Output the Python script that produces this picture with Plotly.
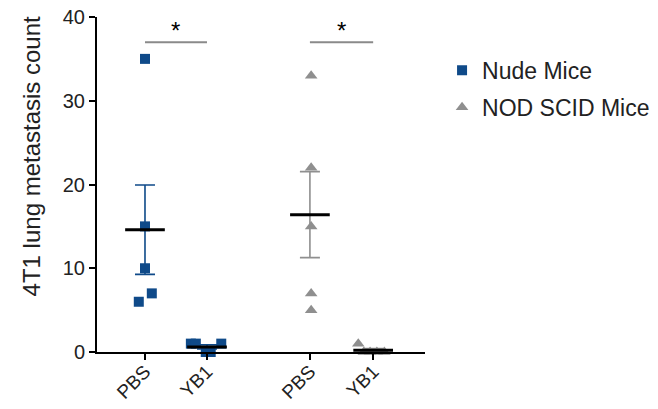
import numpy as np
import plotly.graph_objects as go

# ---- data ----
tick_labels = ["PBS", "YB1", "PBS", "YB1"]
group_pos = [0.0, 1.0, 2.66, 3.68]

nude_pbs = [35, 15, 10, 7, 6]
nude_yb1 = [1, 1, 1, 0, 0]
nod_pbs = [33, 22, 15, 7, 5]
nod_yb1 = [1, 0, 0, 0, 0]

# horizontal scatter offsets (jitter) for points within each group
nude_pbs_off = [0.0, 0.0, 0.0, 0.11, -0.1]
nude_yb1_off = [-0.26, -0.18, 0.23, -0.02, 0.06]
nod_pbs_off = [0.02, 0.02, 0.02, 0.02, 0.02]
nod_yb1_off = [-0.24, -0.15, -0.05, 0.06, 0.18]

sig_pairs = [(0, 1), (2, 3)]
sig_level = 37
sig_text = "*"
y_title = "4T1 lung metastasis count"

BLUE = "#0f4a89"
GREY = "#8f8f8f"
FONT = "Liberation Sans, Arial, sans-serif"

fig = go.Figure()

groups = [
    (nude_pbs, nude_pbs_off, group_pos[0], BLUE, "square", "Nude Mice", True, 10),
    (nude_yb1, nude_yb1_off, group_pos[1], BLUE, "square", "Nude Mice", False, 10),
    (nod_pbs, nod_pbs_off, group_pos[2], GREY, "triangle-up", "NOD SCID Mice", True, 11),
    (nod_yb1, nod_yb1_off, group_pos[3], GREY, "triangle-up", "NOD SCID Mice", False, 11),
]

for vals, offs, pos, col, sym, name, show, sz in groups:
    xs = [pos + o for o in offs]
    fig.add_trace(go.Scatter(
        x=xs, y=vals, mode="markers", name=name, showlegend=show,
        legendgroup=name,
        marker=dict(symbol=sym, size=sz, color=col, line=dict(width=0)),
        cliponaxis=False,
    ))

for vals, offs, pos, col, sym, name, show, sz in groups:
    arr = np.array(vals, dtype=float)
    m = arr.mean()
    sem = arr.std(ddof=1) / np.sqrt(len(arr))
    fig.add_trace(go.Scatter(
        x=[pos], y=[m], mode="markers", showlegend=False, hoverinfo="skip",
        marker=dict(size=0.1, color=col, opacity=0),
        error_y=dict(type="data", array=[sem], visible=True, color=col,
                     thickness=1.6, width=10),
        cliponaxis=False,
    ))
    fig.add_trace(go.Scatter(
        x=[pos - 0.32, pos + 0.32], y=[m, m], mode="lines", showlegend=False,
        hoverinfo="skip", line=dict(color="black", width=3), cliponaxis=False,
    ))

for a, b in sig_pairs:
    fig.add_shape(type="line", xref="x", yref="y",
                  x0=group_pos[a], x1=group_pos[b], y0=sig_level, y1=sig_level,
                  line=dict(color="#8a8a8a", width=2))
    fig.add_annotation(x=(group_pos[a] + group_pos[b]) / 2, y=sig_level,
                       xref="x", yref="y", text=sig_text, showarrow=False,
                       yanchor="bottom", yshift=-4, font=dict(family=FONT, size=24, color="black"))

# y-axis title (placed as rotated text to match the reference's vertical position)
fig.add_annotation(x=-0.20, y=0.585, xref="paper", yref="paper", text=y_title,
                   textangle=-90, showarrow=False, xanchor="center", yanchor="middle",
                   font=dict(family=FONT, size=24, color="#222"))

fig.update_layout(
    width=658, height=409,
    margin=dict(l=97, r=233, t=17, b=57, autoexpand=False),
    paper_bgcolor="white", plot_bgcolor="white",
    font=dict(family=FONT, color="#222"),
    xaxis=dict(
        range=[-0.774, 4.516], tickvals=group_pos, ticktext=tick_labels,
        tickangle=-45, tickfont=dict(family=FONT, size=19, color="#222"),
        ticklabelstandoff=-7,
        showgrid=False, zeroline=False,
        showline=True, linecolor="black", linewidth=2, automargin=False,
        ticks="outside", ticklen=6, tickwidth=2, tickcolor="black",
    ),
    yaxis=dict(
        range=[0, 40], tickvals=[0, 10, 20, 30, 40],
        tickfont=dict(family=FONT, size=20, color="#222"),
        showgrid=False, zeroline=False, showline=True, linecolor="black",
        linewidth=2, ticks="outside", ticklen=6, tickwidth=2, tickcolor="black",
        automargin=False,
    ),
    legend=dict(x=1.052, y=0.905, xanchor="left", yanchor="top",
                font=dict(family=FONT, size=23, color="#222"),
                tracegroupgap=4, bgcolor="rgba(0,0,0,0)"),
    showlegend=True,
)

fig.write_html("out.html")
